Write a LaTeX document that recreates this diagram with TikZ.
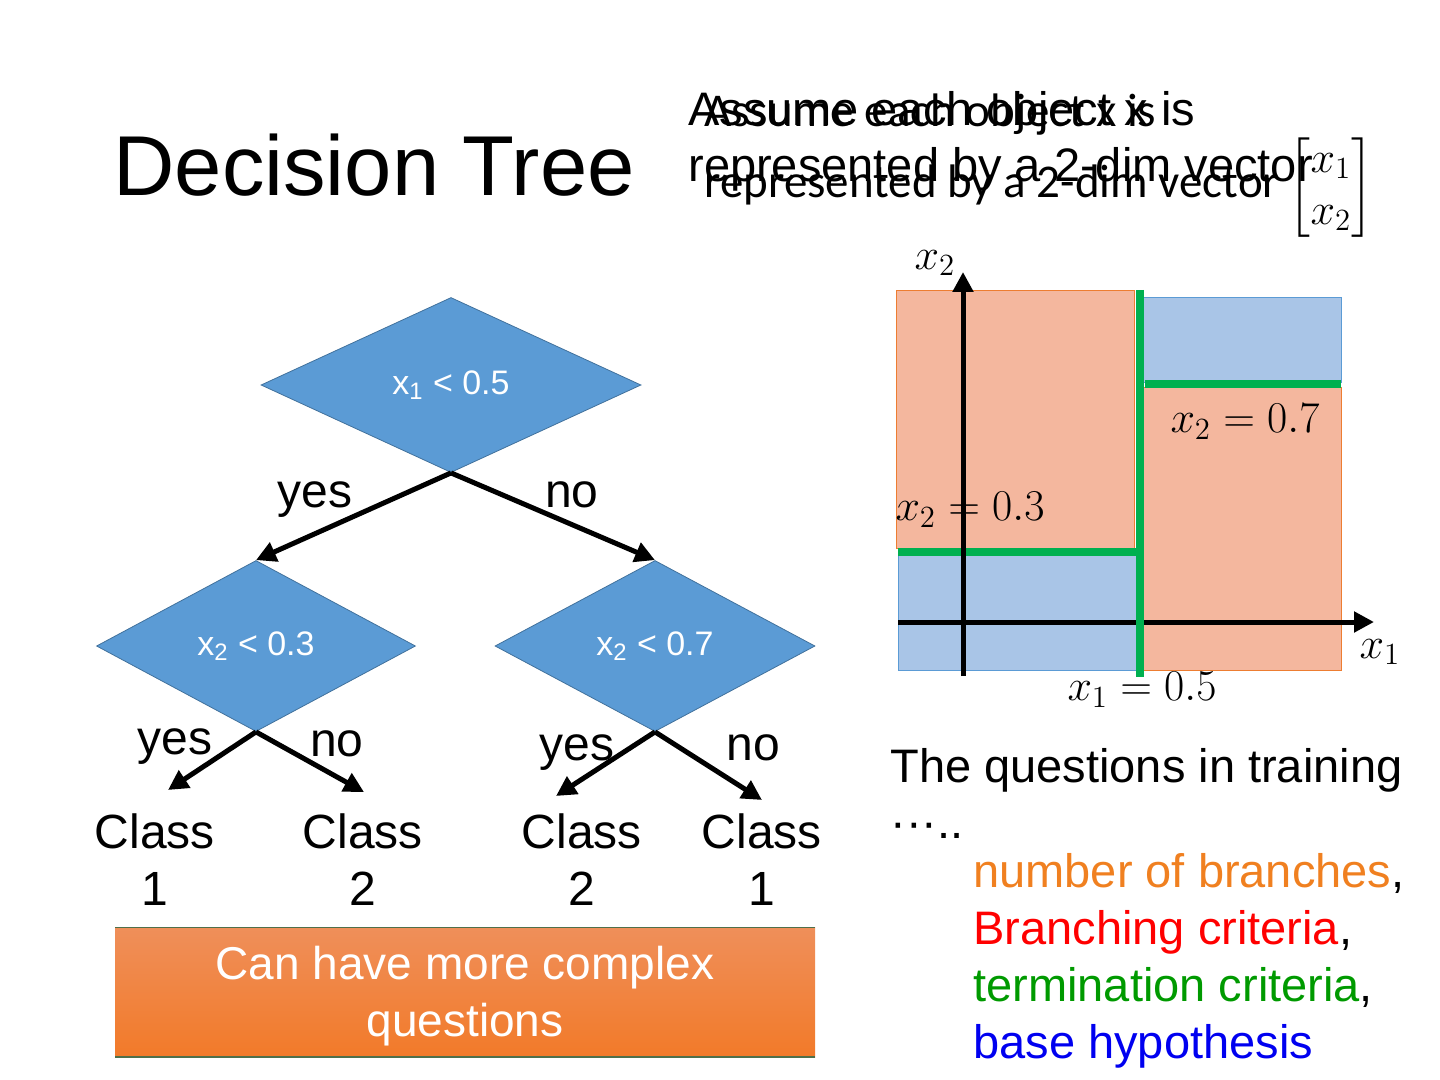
\documentclass[tikz,border=0pt]{standalone}
\usepackage{fix-cm}
\usepackage{amsmath}
\usepackage{fontspec}
\setmainfont{Liberation Sans}
\newfontfamily\carlito{Carlito}
\usetikzlibrary{shapes.geometric,arrows.meta}

\definecolor{diafill}{HTML}{5B9BD5}
\definecolor{diaedge}{HTML}{41719C}
\definecolor{salmon}{HTML}{F4B79E}
\definecolor{salmonedge}{HTML}{ED7D31}
\definecolor{skyfill}{HTML}{A9C5E7}
\definecolor{skyedge}{HTML}{5B9BD5}
\definecolor{splitgreen}{HTML}{00B050}
\definecolor{boxtop}{HTML}{EF8F5A}
\definecolor{boxbot}{HTML}{F27A29}
\definecolor{boxedge}{HTML}{4F6F4A}
\definecolor{txtorange}{HTML}{F08020}
\definecolor{txtred}{HTML}{FF0000}
\definecolor{txtgreen}{HTML}{009A00}
\definecolor{txtblue}{HTML}{0000F0}

\begin{document}
\begin{tikzpicture}[x=0.5pt,y=-0.5pt,
    test/.style={diamond,draw=diaedge,fill=diafill,text=white,inner sep=0pt,
      font=\fontsize{17}{20}\selectfont},
    arr/.style={line width=2.5pt,-{Triangle[length=10pt,width=10pt]}},
    lab/.style={anchor=base,inner sep=0pt,font=\fontsize{24}{28.5}\selectfont},
    leaf/.style={anchor=north,align=center,inner sep=0pt,font=\fontsize{24}{28.5}\selectfont},
    big/.style={anchor=base west,inner sep=0pt,font=\fontsize{23.5}{28}\selectfont},
    mth/.style={inner sep=0pt,font=\fontsize{22}{26}\selectfont}]
  \useasboundingbox (0,0) rectangle (1440,1080);

  % title and header
  \node[anchor=base west,inner sep=0pt,font=\fontsize{42.5}{50}\selectfont] (title) at (113,196) {Decision Tree};
  \node[big] (hd1) at (688,126) {Assume each object x is};
  \node[big] (hd2) at (688,182) {represented by a 2-dim vector};
  \node[big,font=\carlito\fontsize{23.5}{28}\selectfont] (hc1) at (704,127) {Assume each object x is};
  \node[big,font=\carlito\fontsize{23.5}{28}\selectfont] (hc2) at (704,198) {represented by a 2-dim vector};
  \node[mth] (vec) at (1331,188) {$\begin{bmatrix}x_1\\x_2\end{bmatrix}$};

  % tree
  \node[test,minimum width=190pt,minimum height=87.5pt] (root) at (451,385) {x\textsubscript{1} < 0.5};
  \node[test,minimum width=159.5pt,minimum height=85.5pt] (left) at (256,646) {x\textsubscript{2} < 0.3};
  \node[test,minimum width=160pt,minimum height=85.5pt] (right) at (655,646) {x\textsubscript{2} < 0.7};

  \node[leaf] (c1) at (155,813) {Class\\1};
  \node[leaf] (c2) at (363,813) {Class\\2};
  \node[leaf] (c3) at (582,813) {Class\\2};
  \node[leaf] (c4) at (762,813) {Class\\1};
  \coordinate (e1) at (168,790);
  \coordinate (e2) at (364,792);
  \coordinate (e3) at (556,796);
  \coordinate (e4) at (762,800);

  \draw[arr] (root.south) -- (left.north);
  \draw[arr] (root.south) -- (right.north);
  \draw[arr] (left.south) -- (e1);
  \draw[arr] (left.south) -- (e2);
  \draw[arr] (right.south) -- (e3);
  \draw[arr] (right.south) -- (e4);

  \node[lab] (ya) at (315,507) {yes};
  \node[lab] (na) at (572,507) {no};
  \node[lab] (yb) at (175,754) {yes};
  \node[lab] (nb) at (337,756) {no};
  \node[lab] (yc) at (577,760) {yes};
  \node[lab] (nc) at (753,760) {no};

  % orange box
  \shade[top color=boxtop,bottom color=boxbot] (115,927) rectangle (815,1057);
  \draw[boxedge,line width=0.4pt] (115,927) -- (815,927);
  \draw[boxedge,line width=1pt] (115,1057) -- (815,1057);
  \node[align=center,text=white,inner sep=0pt,font=\fontsize{23}{28.5}\selectfont] (more) at (465,996) {Can have more complex\\questions};

  % regions
  \filldraw[fill=salmon,draw=salmonedge] (896,290) rectangle (1134,548);
  \filldraw[fill=skyfill,draw=skyedge] (1143,297) rectangle (1341,382);
  \filldraw[fill=salmon,draw=salmonedge] (1143,387) rectangle (1341,670);
  \filldraw[fill=skyfill,draw=skyedge] (898,554) rectangle (1138,670);
  \draw[arr] (898,622) -- (1374,622);
  \draw[splitgreen,line width=4pt] (1140,290) -- (1140,677);
  \draw[splitgreen,line width=4pt] (898,552) -- (1140,552);
  \draw[splitgreen,line width=4pt] (1145,384) -- (1341,384);
  \draw[arr] (963,676) -- (963,272);

  \node[mth] (ax2) at (935,263) {$x_2$};
  \node[mth] (ax1) at (1380,652) {$x_1$};
  \node[mth] (s07) at (1245,422) {$x_2=0.7$};
  \node[mth] (s03) at (970,510) {$x_2=0.3$};
  \node[mth] (s05) at (1142,690) {$x_1=0.5$};

  % questions
  \node[big] (q1) at (890,782) {The questions in training};
  \node[big] (q2) at (890,838) {···..};
  \node[big] (b1) at (973,887) {\textcolor{txtorange}{number of branches},};
  \node[big] (b2) at (973,944) {\textcolor{txtred}{Branching criteria},};
  \node[big] (b3) at (973,1001) {\textcolor{txtgreen}{termination criteria},};
  \node[big] (b4) at (973,1058) {\textcolor{txtblue}{base hypothesis}};
\end{tikzpicture}
\end{document}
